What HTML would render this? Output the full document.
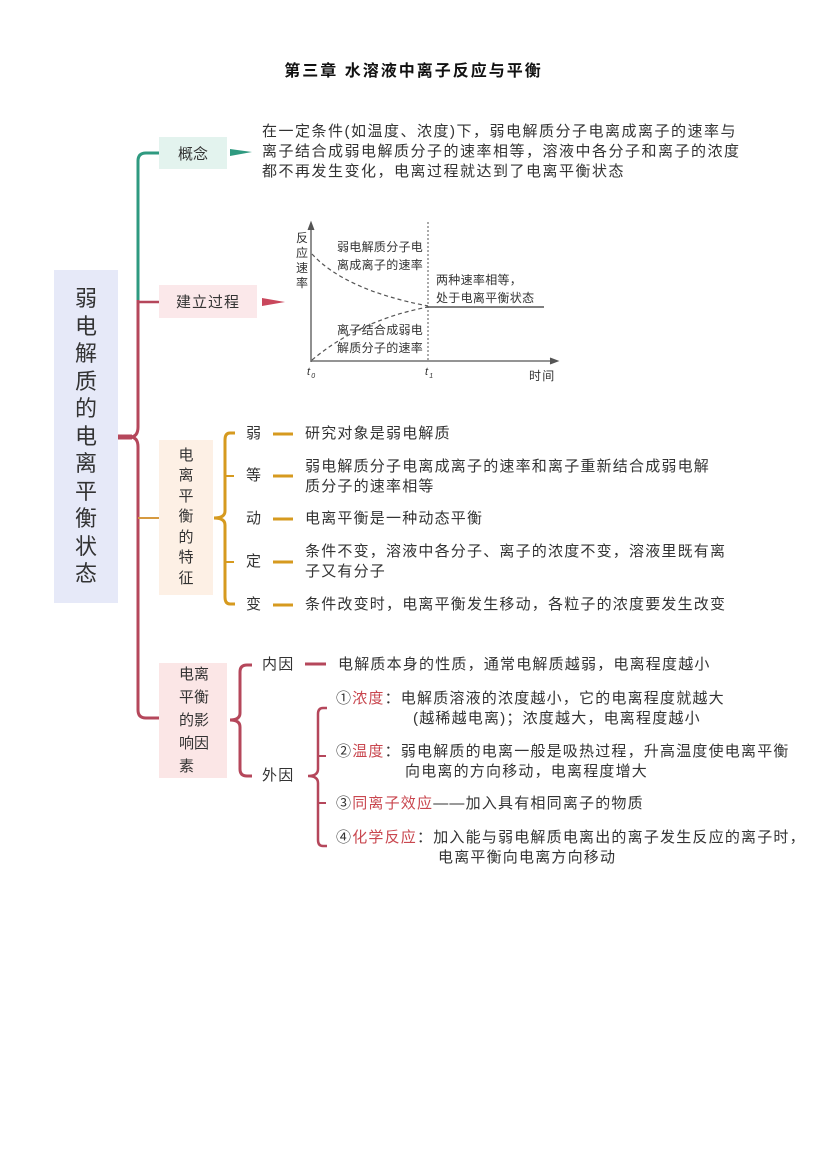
<!DOCTYPE html>
<html><head><meta charset="utf-8"><style>
body{margin:0;background:#fff;}
#p{position:relative;width:827px;height:1169px;overflow:hidden;font-family:"Liberation Sans","Noto Sans CJK SC",sans-serif;color:#333;}
.t{position:absolute;font-size:15px;line-height:19.5px;white-space:nowrap;letter-spacing:1.2px;}
.b{position:absolute;display:flex;align-items:center;justify-content:center;font-size:15px;color:#333;}
.r{color:#c9474f;}
</style></head><body><div id="p">
<div class="t" style="left:0;width:827px;text-align:center;top:62px;font-size:16px;font-weight:bold;color:#111;letter-spacing:2px">第三章 水溶液中离子反应与平衡</div>

<svg width="827" height="1169" style="position:absolute;left:0;top:0">
<path d="M159 153 H146 Q138 153 138 161 V300" stroke="#2f9a80" stroke-width="3" fill="none"/>
<path d="M138 300 V427 Q138 437 130 437 Q138 437 138 447 V710 Q138 718 146 718 H159" stroke="#b5475b" stroke-width="3" fill="none"/>
<path d="M118 437 H132" stroke="#b5475b" stroke-width="5"/>
<path d="M138 302 H159" stroke="#b5475b" stroke-width="2.5"/>
<path d="M138 518 H159" stroke="#d69a40" stroke-width="2"/>
<path d="M230 149 L252 152 L230 156 Z" fill="#2f9a80"/>
<path d="M262 298 L285 302 L262 306 Z" fill="#c9475c"/>
<path d="M235 433 H230 Q225 433 225 440 V511 Q225 518 214 518 Q225 518 225 525 V597 Q225 604 230 604 H235" stroke="#d69a1f" stroke-width="3" fill="none"/>
<path d="M225 476 H234 M225 562 H234" stroke="#d69a1f" stroke-width="2"/>
<path d="M273 434 H293 M273 476 H293 M273 519 H293 M273 562 H293 M273 605 H293" stroke="#d69a1f" stroke-width="3"/>
<path d="M252 665 H247 Q240 665 240 672 V713 Q240 720 230 720 Q240 720 240 727 V769 Q240 776 247 776 H252" stroke="#b5475b" stroke-width="3" fill="none"/>
<path d="M305 664 H326" stroke="#b5475b" stroke-width="3"/>
<path d="M327 708 H323 Q318 708 318 714 V769 Q318 776 308 776 Q318 776 318 783 V840 Q318 846 323 846 H327" stroke="#b5475b" stroke-width="2.5" fill="none"/>
<path d="M318 756 H326 M318 803 H326" stroke="#b5475b" stroke-width="2"/>
<g stroke="#555" fill="none">
<path d="M311 362 V224" stroke-width="1.3"/><path d="M308 230 L311 222 L314 230" fill="#555"/>
<path d="M311 361 H555" stroke-width="1.3"/><path d="M550 358 L558 361 L550 364" fill="#555"/>
<path d="M428 222 V361" stroke-dasharray="2 2"/>
<path d="M312 254 Q345 290 428 306" stroke-dasharray="4 3" stroke-width="1.2"/>
<path d="M312 360 Q360 320 428 307" stroke-dasharray="4 3" stroke-width="1.2"/>
<path d="M428 307 H544" stroke-width="1.5"/>
</g>
</svg>

<div class="t" style="left:296px;top:231px;font-size:12px;line-height:15px;width:13px;white-space:normal;letter-spacing:0">反应速率</div>
<div class="t" style="left:337px;top:238px;font-size:12px;line-height:18px;letter-spacing:0.3px">弱电解质分子电<br>离成离子的速率</div>
<div class="t" style="left:436px;top:271px;font-size:12px;line-height:18px;letter-spacing:0.3px">两种速率相等，<br>处于电离平衡状态</div>
<div class="t" style="left:337px;top:321px;font-size:12px;line-height:18px;letter-spacing:0.3px">离子结合成弱电<br>解质分子的速率</div>
<div class="t" style="left:307px;top:363px;font-size:11px;font-style:italic">t<sub style="font-size:7px">0</sub></div>
<div class="t" style="left:425px;top:363px;font-size:11px;font-style:italic">t<sub style="font-size:7px">1</sub></div>
<div class="t" style="left:529px;top:367px;font-size:12px">时间</div>

<div class="b" style="left:54px;top:270px;width:64px;height:333px;background:#e6e9f8;font-size:22px;line-height:27.5px;text-align:center;flex-direction:column">弱<br>电<br>解<br>质<br>的<br>电<br>离<br>平<br>衡<br>状<br>态</div>
<div class="b" style="left:159px;top:137px;width:68px;height:32px;background:#e3f3ee;">概念</div>
<div class="b" style="left:159px;top:285px;width:98px;height:33px;background:#fbe8ea;letter-spacing:1px">建立过程</div>
<div class="b" style="left:159px;top:440px;width:54px;height:155px;background:#fdf0e5;line-height:20.5px;text-align:center">电<br>离<br>平<br>衡<br>的<br>特<br>征</div>
<div class="b" style="left:159px;top:663px;width:68px;height:115px;background:#fbe6e6;line-height:23px;justify-content:flex-start;padding-left:20px;box-sizing:border-box">电离<br>平衡<br>的影<br>响因<br>素</div>

<div class="t" style="left:262px;top:122px;line-height:20px;letter-spacing:1.5px">在一定条件(如温度、浓度)下，弱电解质分子电离成离子的速率与<br>离子结合成弱电解质分子的速率相等，溶液中各分子和离子的浓度<br>都不再发生变化，电离过程就达到了电离平衡状态</div>

<div class="t" style="left:246px;top:424px">弱</div>
<div class="t" style="left:246px;top:466px">等</div>
<div class="t" style="left:246px;top:509px">动</div>
<div class="t" style="left:246px;top:552px">定</div>
<div class="t" style="left:246px;top:595px">变</div>
<div class="t" style="left:305px;top:424px">研究对象是弱电解质</div>
<div class="t" style="left:305px;top:457px">弱电解质分子电离成离子的速率和离子重新结合成弱电解<br>质分子的速率相等</div>
<div class="t" style="left:305px;top:509px">电离平衡是一种动态平衡</div>
<div class="t" style="left:305px;top:542px">条件不变，溶液中各分子、离子的浓度不变，溶液里既有离<br>子又有分子</div>
<div class="t" style="left:305px;top:595px">条件改变时，电离平衡发生移动，各粒子的浓度要发生改变</div>

<div class="t" style="left:262px;top:655px">内因</div>
<div class="t" style="left:262px;top:766px">外因</div>
<div class="t" style="left:338px;top:655px">电解质本身的性质，通常电解质越弱，电离程度越小</div>
<div class="t" style="left:336px;top:689px">①<span class="r">浓度</span>：电解质溶液的浓度越小，它的电离程度就越大<br><span style="padding-left:77px">(越稀越电离)；浓度越大，电离程度越小</span></div>
<div class="t" style="left:336px;top:742px">②<span class="r">温度</span>：弱电解质的电离一般是吸热过程，升高温度使电离平衡<br><span style="padding-left:69px">向电离的方向移动，电离程度增大</span></div>
<div class="t" style="left:336px;top:794px">③<span class="r">同离子效应</span>——加入具有相同离子的物质</div>
<div class="t" style="left:336px;top:828px">④<span class="r">化学反应</span>：加入能与弱电解质电离出的离子发生反应的离子时，<br><span style="padding-left:102px">电离平衡向电离方向移动</span></div>
</div></body></html>
